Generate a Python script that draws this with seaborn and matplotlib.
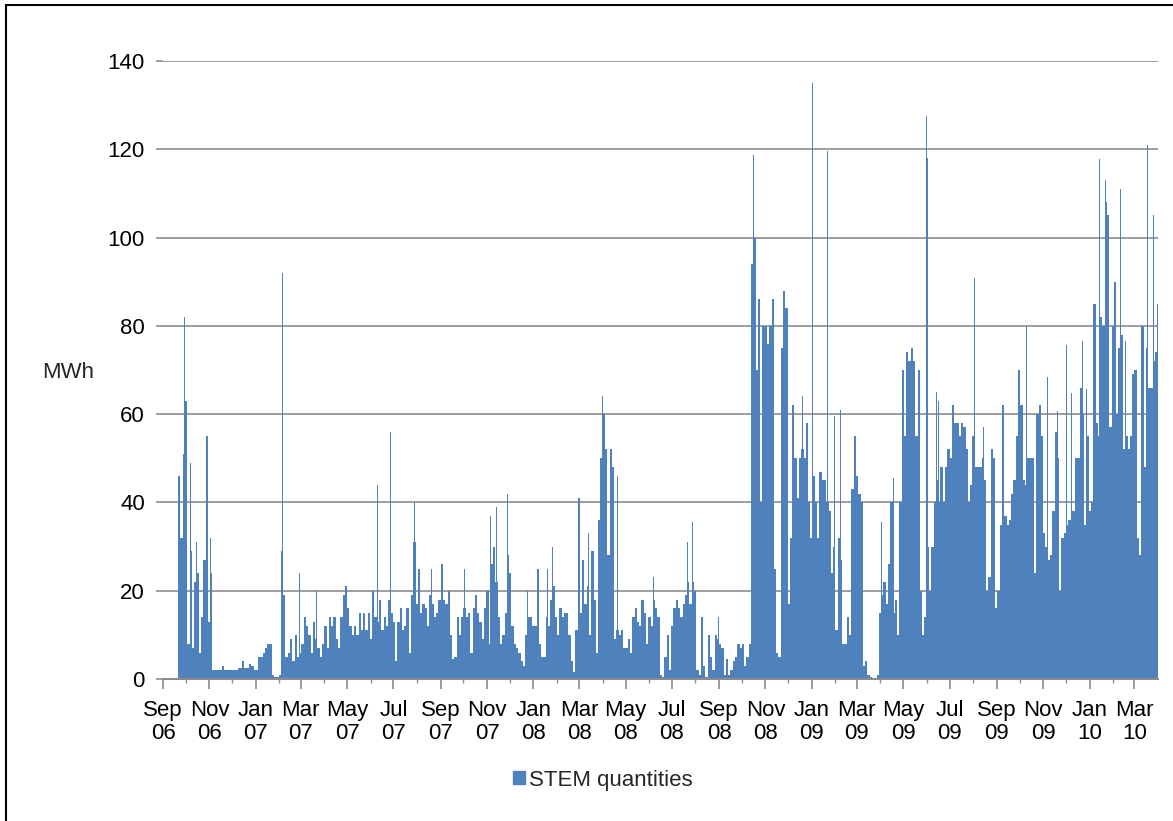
import pandas as pd
import seaborn as sns
import matplotlib.pyplot as plt
from matplotlib.lines import Line2D
from matplotlib.patches import Patch

# STEM quantities (MWh), one value per 3-day block, first block starts 21 Sep 2006
stem_sep06 = [46, 32, 51, 63, 8, 29, 7, 22, 24, 6, 14, 27, 55, 13, 24, 2, 2, 2, 2, 3,
              2, 2, 2, 2, 2, 2, 2.5, 2.5, 4, 2.5, 2.5, 3.5, 3, 2, 2, 5]
stem_jan07 = [5, 6, 7, 8, 8, 1, 0.5, 0.5, 1, 29, 19, 5, 6, 9, 4, 10, 5, 6, 8, 14,
              12, 10, 6, 13, 9, 7, 5, 8, 12, 7, 14, 12, 14, 9, 7, 14, 19, 21, 16]
stem_may07 = [12, 10, 12, 10, 15, 11, 15, 11, 15, 9, 20, 14, 13, 18, 11, 14, 12, 18, 15, 13,
              4, 13, 16, 11, 12, 16, 6, 19, 31, 17, 25, 15, 17, 16, 12, 19, 17, 14, 15, 18]
stem_sep07 = [26, 18, 17, 20, 10, 4.5, 5, 14, 10, 14, 16, 14, 15, 6, 16, 19, 15, 13, 9, 16,
              20, 8, 26, 30, 22, 14, 8, 10, 15, 28, 24, 12, 8, 7, 6, 4, 3, 10, 14]
stem_dec07 = [14, 12, 12, 25, 8, 5, 5, 14, 12, 18, 21, 14, 10, 16, 14, 15, 15, 10, 4, 1.5,
              11, 41, 15, 27, 17, 21, 10, 29, 18, 6, 36, 50, 60, 52, 28, 52, 48, 9, 11, 10]
stem_apr08 = [11, 7, 7, 9, 6, 14, 16, 13, 12, 18, 15, 8, 14, 12, 18, 16, 14, 1, 0.5, 5,
              10, 2, 12, 16, 18, 16, 14, 17, 19, 22, 17, 22, 20, 2, 1, 14, 3, 0.5, 10]
stem_aug08 = [5, 2, 10, 9, 8, 7, 1, 4.5, 1, 2, 4, 5, 8, 7, 8, 3, 5, 8, 94, 100,
              70, 86, 40, 80, 80, 76, 80, 86, 25, 6, 5, 75, 88, 84, 17, 32, 62, 50, 41, 50]
stem_dec08 = [52, 50, 58, 40, 32, 46, 40, 32, 47, 45, 45, 40, 38, 24, 30, 11, 32, 27, 8, 8,
              14, 10, 43, 55, 46, 42, 40, 3, 4, 1, 0.5, 0.3, 0.3, 1, 15, 19, 22, 17, 26]
stem_apr09 = [40, 15, 18, 10, 40, 70, 55, 74, 72, 75, 72, 55, 70, 20, 10, 14, 30, 20, 30, 40,
              45, 40, 48, 40, 48, 52, 50, 62, 58, 58, 55, 58, 57, 52, 40, 44, 55, 48, 48, 48]
stem_aug09 = [50, 45, 20, 23, 52, 50, 16, 20, 35, 62, 37, 35, 36, 42, 45, 55, 70, 62, 45, 44,
              50, 50, 50, 24, 60, 62, 55, 33, 30, 27, 28, 38, 56, 50, 20, 32, 33, 35, 36]
stem_dec09 = [38, 38, 50, 50, 66, 60, 35, 55, 38, 40, 85, 58, 55, 82, 80, 108, 105, 57, 80, 90,
              60, 75, 78, 52, 55, 52, 55, 69, 70, 32, 28, 80, 48, 75, 66, 66, 72, 74, 85]

# single-day peaks
peak_dates = ['2006-09-29', '2006-10-07', '2006-10-15', '2006-10-27', '2006-11-02', '2006-11-29',
              '2007-02-05', '2007-02-27', '2007-03-21', '2007-06-09', '2007-06-27', '2007-07-28',
              '2007-08-19', '2007-09-01', '2007-10-02', '2007-11-05', '2007-11-13', '2007-11-27',
              '2007-12-24',
              '2008-01-19', '2008-01-26', '2008-02-15', '2008-02-28', '2008-03-13', '2008-03-31',
              '2008-04-20', '2008-06-06', '2008-07-21', '2008-07-28', '2008-08-31', '2008-10-16',
              '2008-11-05', '2008-11-21', '2008-12-19',
              '2009-01-01', '2009-01-15', '2009-01-21', '2009-01-30', '2009-02-07', '2009-02-25',
              '2009-04-02', '2009-04-12', '2009-04-18', '2009-05-31', '2009-06-01', '2009-06-13',
              '2009-06-16', '2009-07-05', '2009-08-02', '2009-08-14', '2009-08-28', '2009-10-10',
              '2009-11-06', '2009-11-19', '2009-12-01', '2009-12-08', '2009-12-22', '2009-12-28',
              '2010-01-05', '2010-01-14', '2010-01-21', '2010-02-10', '2010-02-17', '2010-03-18',
              '2010-03-26']
peak_vals = [82, 49, 31, 59.5, 32, 25,
             92, 24, 20, 44, 56, 40, 25, 40, 25, 37, 39, 42, 20,
             25, 30, 30, 55, 33, 64, 46, 23, 31, 35.5, 14, 118.6, 91, 110, 64,
             135, 64, 119.5, 59.5, 61, 96.7, 35.6, 35.6, 45.6, 127.5, 118, 65, 63, 73, 90.8,
             57, 63.4, 80, 68.4, 60.7, 75.7, 64.8, 76.6, 65.7,
             94, 117.7, 113, 111, 76.6, 121, 105]

origin = pd.Timestamp('2006-09-01')
stem_vals = (stem_sep06 + stem_jan07 + stem_may07 + stem_sep07 + stem_dec07 + stem_apr08
             + stem_aug08 + stem_dec08 + stem_apr09 + stem_aug09 + stem_dec09)
blocks = pd.date_range('2006-09-21', periods=len(stem_vals), freq='3D')
base = pd.DataFrame({'day': (blocks - origin).days + 1.5, 'mwh': stem_vals})
peaks = pd.DataFrame({'day': (pd.to_datetime(peak_dates) - origin).days + 0.5, 'mwh': peak_vals})

sns.set_theme(style='white')
plt.rcParams['font.family'] = ['Liberation Sans', 'DejaVu Sans']

W, H = 1173, 821
fig = plt.figure(figsize=(W / 100, H / 100), dpi=100)
ax = fig.add_axes([163 / W, 1 - 679 / H, 995 / W, 618 / H])

blue = '#4F81BD'
grey = '#8c8c8c'
sns.barplot(data=base, x='day', y='mwh', native_scale=True, width=1.0, color=blue,
            saturation=1, linewidth=0, errorbar=None, ax=ax)
sns.barplot(data=peaks, x='day', y='mwh', native_scale=True, width=1.0, color=blue,
            saturation=1, linewidth=0, errorbar=None, ax=ax)

months = pd.date_range('2006-09-01', '2010-03-01', freq='MS')
major = months[::2]
ax.set_xticks((major - origin).days)
ax.set_xticklabels([m.strftime('%b\n%y') for m in major], linespacing=1.15)
ax.set_xticks((months - origin).days, minor=True)
ax.set_xlim(0, 1308)
ax.set_ylim(0, 140)
ax.set_yticks(range(0, 141, 20))
ax.set_xlabel('')
ax.set_ylabel('')

ax.grid(axis='y', color=grey, linewidth=1.2)
ax.set_axisbelow(True)
for s in ['top', 'right', 'left']:
    ax.spines[s].set_visible(False)
ax.spines['bottom'].set_color(grey)
ax.spines['bottom'].set_linewidth(1.5)

ax.tick_params(axis='x', which='major', direction='out', length=7, width=1.2, color=grey,
               labelsize=16, labelcolor='black', pad=8, bottom=True)
ax.tick_params(axis='x', which='minor', direction='out', length=3, width=1, color=grey, bottom=True)
ax.tick_params(axis='y', direction='out', length=5, width=1.2, color=grey,
               labelsize=16, labelcolor='black', pad=8, left=True)

fig.text(68 / W, 1 - 372 / H, 'MWh', ha='center', va='center', fontsize=16)

fig.legend([Patch(color=blue)], ['STEM quantities'], loc='center',
           bbox_to_anchor=(603 / W, 1 - 780 / H), frameon=False, fontsize=16,
           handlelength=0.5, handleheight=0.5, handletextpad=0.2)

# outer frame (left and top edges visible in the original)
fig.add_artist(Line2D([6 / W, 6 / W], [0, 1 - 5 / H], transform=fig.transFigure, color='black', lw=1.5))
fig.add_artist(Line2D([6 / W, 1], [1 - 5 / H, 1 - 5 / H], transform=fig.transFigure, color='black', lw=1.5))

fig.savefig('out.png', dpi=100)
